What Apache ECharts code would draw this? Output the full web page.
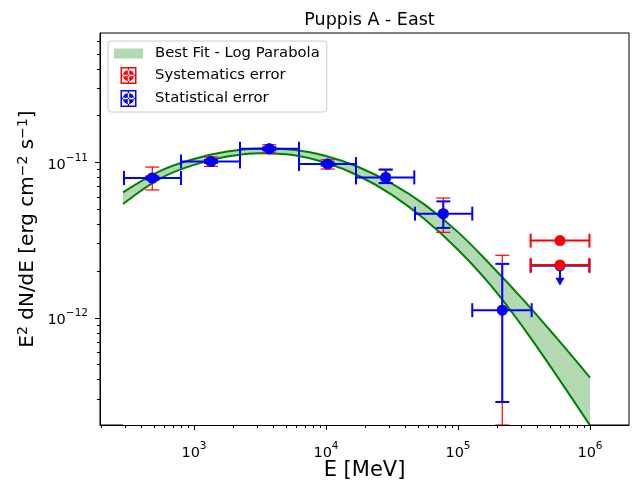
<!DOCTYPE html>
<html>
<head>
<meta charset="utf-8">
<script src="https://cdn.jsdelivr.net/npm/echarts@6/dist/echarts.min.js"></script>
<style>html,body{margin:0;padding:0;background:#fff;}#c{width:641px;height:480px;}</style>
</head>
<body>
<div id="c"></div>
<script>
// ---- data ----
const bandE = [290, 562, 1000, 1778, 3162, 5623, 10000, 17783, 31623, 56234, 100000, 177828, 316228, 562341, 1000000];
const bandUpper = [6.42e-12, 8.86e-12, 1.053e-11, 1.175e-11, 1.232e-11, 1.209e-11, 1.101e-11, 9.32e-12, 7.31e-12, 5.33e-12, 3.56e-12, 2.18e-12, 1.29e-12, 7.36e-13, 4.12e-13];
const bandLower = [5.40e-12, 7.93e-12, 9.65e-12, 1.091e-11, 1.148e-11, 1.116e-11, 9.96e-12, 8.18e-12, 6.18e-12, 4.29e-12, 2.74e-12, 1.61e-12, 8.52e-13, 4.21e-13, 2.03e-13];

const energy = [483, 1345, 3720, 10300, 28340, 77390, 216600];
const eLow   = [295, 797, 2231, 6245, 16880, 47230, 128300];
const eHigh  = [797, 2231, 6245, 16880, 46660, 128300, 361600];
const flux   = [7.94e-12, 1.015e-11, 1.225e-11, 9.77e-12, 8.01e-12, 4.68e-12, 1.119e-12];
const statHigh = [8.12e-12, 1.038e-11, 1.253e-11, 9.99e-12, 8.98e-12, 5.615e-12, 2.223e-12];
const statLow  = [7.77e-12, 9.93e-12, 1.198e-11, 9.56e-12, 7.37e-12, 3.79e-12, 2.87e-13];
const sysHigh  = [9.34e-12, 1.083e-11, 1.30e-11, 1.041e-11, 9.05e-12, 5.90e-12, 2.525e-12];
const sysLow   = [6.65e-12, 9.43e-12, 1.149e-11, 9.07e-12, 7.32e-12, 3.548e-12, 2.04e-13];

const ulEnergy = [592500];
const ulLow = [355400];
const ulHigh = [990000];
const ulStat = [2.16e-12];
const ulStatArrow = [1.61e-12];
const ulSys = [3.14e-12, 2.19e-12];

const xMajor = [1e3, 1e4, 1e5, 1e6];
const xMinor = [200,300,400,500,600,700,800,900,2e3,3e3,4e3,5e3,6e3,7e3,8e3,9e3,2e4,3e4,4e4,5e4,6e4,7e4,8e4,9e4,2e5,3e5,4e5,5e5,6e5,7e5,8e5,9e5];
const yMajor = [1e-12, 1e-11];
const yMinor = [3e-13,4e-13,5e-13,6e-13,7e-13,8e-13,9e-13,2e-12,3e-12,4e-12,5e-12,6e-12,7e-12,8e-12,9e-12,2e-11,3e-11,4e-11,5e-11,6e-11];

const X_MIN = 194.1, X_MAX = 1.975e6, Y_MIN = 2.04e-13, Y_MAX = 6.815e-11;

// ---- rendering ----
const FONT = 'DejaVu Sans';
const RED = '#ff0000', BLUE = '#0000ff', GREEN = '#008000';

function sup(v) {
  const e = Math.round(Math.log10(v));
  return '{b|10}{s|' + String(e).replace('-', '\u2212') + '}';
}
const tickRich = {
  b: {fontSize: 14.5, fontFamily: FONT, color: '#000', lineHeight: 20, verticalAlign: 'bottom'},
  s: {fontSize: 10.5, fontFamily: FONT, color: '#000', lineHeight: 9, verticalAlign: 'top'}
};

function errRender(color, lw, capHalf, r, drawMarker) {
  return function (params, api) {
    const x = api.value(0), y = api.value(1);
    const xl = api.value(2), xh = api.value(3), yl = api.value(4), yh = api.value(5), tip = api.value(6);
    const c = api.coord([x, y]);
    const st = {stroke: color, lineWidth: lw};
    const ch = [];
    if (!isNaN(yl) && !isNaN(yh)) {
      const a = api.coord([x, yl]), b = api.coord([x, yh]);
      ch.push({type: 'line', shape: {x1: a[0], y1: a[1], x2: b[0], y2: b[1]}, style: st});
      ch.push({type: 'line', shape: {x1: a[0] - capHalf, y1: a[1], x2: a[0] + capHalf, y2: a[1]}, style: st});
      ch.push({type: 'line', shape: {x1: b[0] - capHalf, y1: b[1], x2: b[0] + capHalf, y2: b[1]}, style: st});
    }
    if (!isNaN(xl) && !isNaN(xh)) {
      const a = api.coord([xl, y]), b = api.coord([xh, y]);
      ch.push({type: 'line', shape: {x1: a[0], y1: a[1], x2: b[0], y2: b[1]}, style: st});
      ch.push({type: 'line', shape: {x1: a[0], y1: a[1] - capHalf, x2: a[0], y2: a[1] + capHalf}, style: st});
      ch.push({type: 'line', shape: {x1: b[0], y1: b[1] - capHalf, x2: b[0], y2: b[1] + capHalf}, style: st});
    }
    if (!isNaN(tip)) {
      const t = api.coord([x, tip]);
      ch.push({type: 'line', shape: {x1: c[0], y1: c[1], x2: t[0], y2: t[1] - 6}, style: st});
      ch.push({type: 'polygon', shape: {points: [[t[0] - 4.5, t[1] - 8], [t[0] + 4.5, t[1] - 8], [t[0], t[1]]]}, style: {fill: color}});
    }
    if (drawMarker) {
      ch.push({type: 'circle', shape: {cx: c[0], cy: c[1], r: r}, style: {fill: color}});
    }
    return {type: 'group', children: ch};
  };
}

const redPts = energy.map((e, i) => [e, flux[i], NaN, NaN, sysLow[i], sysHigh[i], NaN]);
const bluePts = energy.map((e, i) => [e, flux[i], eLow[i], eHigh[i], statLow[i], statHigh[i], NaN]);
const blueUL = ulEnergy.map((e, i) => [e, ulStat[i], ulLow[i], ulHigh[i], NaN, NaN, ulStatArrow[i]]);
const redUL = ulSys.map((v) => [ulEnergy[0], v, ulLow[0], ulHigh[0], NaN, NaN, NaN]);

const errIcon = 'path://M0,0H16V17H0Z M1.5,1.5V15.5H14.5V1.5Z M7.3,1.5H8.7V15.5H7.3Z M1.5,7.8H14.5V9.2H1.5Z M2.5,8.5A5.5,5.5 0 1,0 13.5,8.5A5.5,5.5 0 1,0 2.5,8.5Z';

const chart = echarts.init(document.getElementById('c'), null, {renderer: 'canvas'});
chart.setOption({
  animation: false,
  backgroundColor: '#fff',
  title: {
    text: 'Puppis A - East', left: 364.5, top: 6, textAlign: 'center',
    textStyle: {fontFamily: FONT, fontSize: 17.5, fontWeight: 'normal', color: '#000'}
  },
  legend: {
    orient: 'vertical', left: 108, top: 41,
    padding: [5, 7, 5, 6], itemGap: 6, itemWidth: 29, itemHeight: 17,
    backgroundColor: '#fff', borderColor: '#cccccc', borderWidth: 1, borderRadius: 3,
    symbolKeepAspect: true,
    textStyle: {fontFamily: FONT, fontSize: 14.8, color: '#000', padding: [0, 0, 0, 7]},
    data: [
      {name: 'Best Fit - Log Parabola', icon: 'path://M0,0H29V10H0Z', itemStyle: {color: 'rgba(0,128,0,0.3)', borderWidth: 0}},
      {name: 'Systematics error', icon: errIcon, itemStyle: {color: RED, borderWidth: 0}},
      {name: 'Statistical error', icon: errIcon, itemStyle: {color: BLUE, borderWidth: 0}}
    ]
  },
  grid: {left: 100, right: 12, top: 33, bottom: 55, show: true, borderColor: '#000', borderWidth: 1,
    backgroundColor: 'transparent', containLabel: false, outerBoundsMode: 'none'},
  xAxis: [
    {
      type: 'log', min: X_MIN, max: X_MAX, position: 'bottom', z: 6,
      name: 'E [MeV]', nameLocation: 'middle', nameGap: 34, nameMoveOverlap: false,
      nameTextStyle: {fontFamily: FONT, fontSize: 21, color: '#000', lineHeight: 24},
      axisLine: {show: true, lineStyle: {color: '#000', width: 1}},
      axisTick: {show: true, inside: false, length: 5, customValues: xMajor, lineStyle: {color: '#000', width: 1}},
      axisLabel: {show: true, margin: 16, customValues: xMajor, formatter: sup, rich: tickRich},
      splitLine: {show: false}, minorTick: {show: false}
    },
    {
      type: 'log', min: X_MIN, max: X_MAX, position: 'bottom', z: 6,
      axisLine: {show: false},
      axisTick: {show: true, inside: false, length: 3, customValues: xMinor, lineStyle: {color: '#000', width: 1}},
      axisLabel: {show: false}, splitLine: {show: false}
    }
  ],
  yAxis: [
    {
      type: 'log', min: Y_MIN, max: Y_MAX, position: 'left', z: 6,
      name: 'E{s|2} dN/dE [erg cm{s|\u22122} s{s|\u22121}]', nameLocation: 'middle', nameGap: 60, nameMoveOverlap: false,
      nameTextStyle: {fontFamily: FONT, fontSize: 20, color: '#000', lineHeight: 24,
        rich: {s: {fontFamily: FONT, fontSize: 14, color: '#000', lineHeight: 12, verticalAlign: 'top'}}},
      axisLine: {show: true, lineStyle: {color: '#000', width: 1}},
      axisTick: {show: true, inside: false, length: 5, customValues: yMajor, lineStyle: {color: '#000', width: 1}},
      axisLabel: {show: true, margin: 12, customValues: yMajor, formatter: sup, rich: tickRich},
      splitLine: {show: false}, minorTick: {show: false}
    },
    {
      type: 'log', min: Y_MIN, max: Y_MAX, position: 'left', z: 6,
      axisLine: {show: false},
      axisTick: {show: true, inside: false, length: 3, customValues: yMinor, lineStyle: {color: '#000', width: 1}},
      axisLabel: {show: false}, splitLine: {show: false}
    }
  ],
  series: [
    {
      // upper edge of the band; its area is filled green down to the axis
      name: 'Best Fit - Log Parabola', type: 'line', smooth: 0.4, showSymbol: false, symbol: 'none',
      data: bandE.map((e, i) => [e, bandUpper[i]]),
      lineStyle: {color: GREEN, width: 2}, itemStyle: {color: GREEN},
      areaStyle: {color: 'rgba(0,128,0,0.3)', origin: 'start', opacity: 1}, z: 2
    },
    {
      // lower edge of the band; white fill below it leaves only the band shaded
      name: 'bandLower', type: 'line', smooth: 0.4, showSymbol: false, symbol: 'none',
      data: bandE.map((e, i) => [e, bandLower[i]]),
      lineStyle: {color: GREEN, width: 2}, itemStyle: {color: GREEN},
      areaStyle: {color: '#ffffff', origin: 'start', opacity: 1}, z: 2
    },
    {
      name: 'Systematics error', type: 'custom', data: redPts, z: 3,
      itemStyle: {color: RED},
      encode: {x: 0, y: 1},
      renderItem: errRender(RED, 1.2, 7, 5.5, true)
    },
    {
      name: 'Statistical error', type: 'custom', data: bluePts.concat(blueUL), z: 4,
      itemStyle: {color: BLUE},
      encode: {x: 0, y: 1},
      renderItem: errRender(BLUE, 2, 7, 5.5, true)
    },
    {
      name: 'Systematics error', type: 'custom', data: redUL, z: 5,
      itemStyle: {color: RED},
      encode: {x: 0, y: 1},
      renderItem: errRender(RED, 2, 7, 5.5, true)
    }
  ]
});
</script>
</body>
</html>
